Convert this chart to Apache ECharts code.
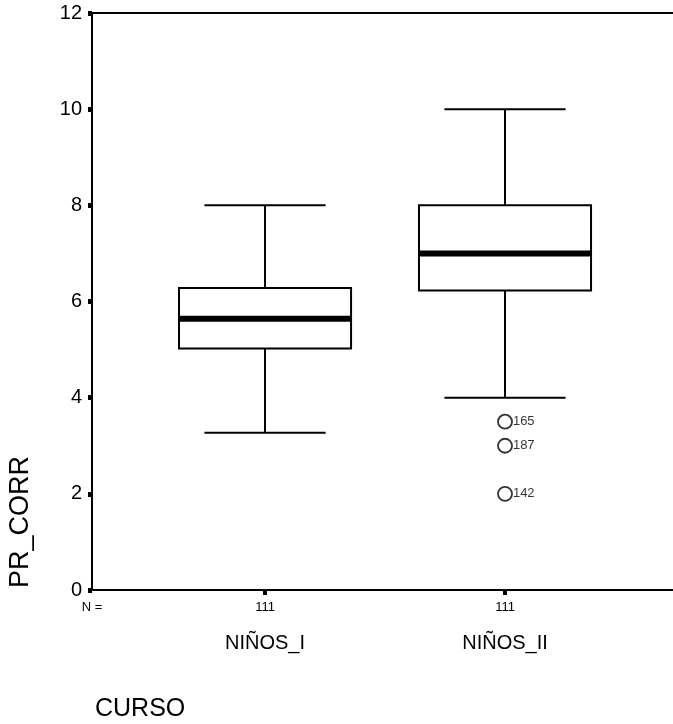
<!DOCTYPE html>
<html><head><meta charset="utf-8">
<script src="https://cdn.jsdelivr.net/npm/echarts@6/dist/echarts.min.js"></script>
<style>html,body{margin:0;padding:0;background:#fff}#c{width:673px;height:724px}</style>
</head><body><div id="c"></div>
<script>
// ---- data ----
const categories = ['NIÑOS_I', 'NIÑOS_II'];
const counts = [111, 111];
const lowerWhisker = [3.27, 4.0];
const q1 = [5.02, 6.23];
const median = [5.64, 7.0];
const q3 = [6.28, 8.0];
const upperWhisker = [8.0, 10.0];
const outlierGroup = [1, 1, 1];
const outlierValue = [3.5, 3.0, 2.0];
const outlierCase = ['165', '187', '142'];
const yTicks = [0, 2, 4, 6, 8, 10, 12];

// ---- layout/style ----
const FF = "'Liberation Sans', Arial, sans-serif";
const XMIN = -0.721, XMAX = 1.70;
const BOX_W = 0.717, CAP_W = 0.505;

const boxData = categories.map((c, i) => [i, lowerWhisker[i], q1[i], median[i], q3[i], upperWhisker[i]]);
const outData = outlierGroup.map((g, i) => [g, outlierValue[i], outlierCase[i]]);

function renderBox(params, api) {
  const x = api.value(0);
  const pLo = api.coord([x, api.value(1)]);
  const pQ1 = api.coord([x, api.value(2)]);
  const pMed = api.coord([x, api.value(3)]);
  const pQ3 = api.coord([x, api.value(4)]);
  const pHi = api.coord([x, api.value(5)]);
  const bw = api.size([BOX_W, 0])[0];
  const cw = api.size([CAP_W, 0])[0];
  const cx = pMed[0];
  const ls = { stroke: '#000', lineWidth: 2, fill: null };
  return {
    type: 'group',
    children: [
      { type: 'line', shape: { x1: cx, y1: pQ3[1], x2: cx, y2: pHi[1] }, style: ls },
      { type: 'line', shape: { x1: cx, y1: pQ1[1], x2: cx, y2: pLo[1] }, style: ls },
      { type: 'line', shape: { x1: cx - cw / 2, y1: pHi[1], x2: cx + cw / 2, y2: pHi[1] }, style: ls },
      { type: 'line', shape: { x1: cx - cw / 2, y1: pLo[1], x2: cx + cw / 2, y2: pLo[1] }, style: ls },
      { type: 'rect', shape: { x: cx - bw / 2, y: pQ3[1], width: bw, height: pQ1[1] - pQ3[1] },
        style: { stroke: '#000', lineWidth: 2, fill: '#fff' } },
      { type: 'line', shape: { x1: cx - bw / 2, y1: pMed[1], x2: cx + bw / 2, y2: pMed[1] },
        style: { stroke: '#000', lineWidth: 6 } }
    ]
  };
}

const chart = echarts.init(document.getElementById('c'), null, { renderer: 'canvas' });
chart.setOption({
  animation: false,
  backgroundColor: '#fff',
  grid: { left: 92, right: 0, top: 13, bottom: 134 },
  xAxis: [
    {
      type: 'value', min: XMIN, max: XMAX, position: 'bottom',
      splitLine: { show: false },
      axisLine: { show: true, onZero: false, lineStyle: { color: '#000', width: 2 } },
      axisTick: { show: true, customValues: [0, 1], length: 5, lineStyle: { color: '#000', width: 4 } },
      axisLabel: {
        customValues: [XMIN, 0, 1], margin: 11, color: '#000', fontFamily: FF, fontSize: 13,
        formatter: v => (Math.abs(v - XMIN) < 1e-6 ? 'N =' : String(counts[Math.round(v)]))
      }
    },
    {
      type: 'value', min: XMIN, max: XMAX, position: 'bottom', offset: 33,
      splitLine: { show: false },
      axisLine: { show: false }, axisTick: { show: false },
      axisLabel: {
        customValues: [0, 1], margin: 10, color: '#000', fontFamily: FF, fontSize: 20,
        letterSpacing: -0.6,
        formatter: v => categories[Math.round(v)]
      }
    },
    {
      type: 'value', min: XMIN, max: XMAX, position: 'top',
      splitLine: { show: false },
      axisLine: { show: true, onZero: false, lineStyle: { color: '#000', width: 2 } },
      axisTick: { show: false }, axisLabel: { show: false }
    }
  ],
  yAxis: {
    type: 'value', min: yTicks[0], max: yTicks[yTicks.length - 1], interval: yTicks[1] - yTicks[0],
    splitLine: { show: false },
    axisLine: { show: true, onZero: false, lineStyle: { color: '#000', width: 2 } },
    axisTick: { show: true, length: 4, lineStyle: { color: '#000', width: 5 } },
    axisLabel: { color: '#000', fontFamily: FF, fontSize: 20, margin: 10 }
  },
  graphic: [
    { type: 'text', x: 21, y: 522, rotation: Math.PI / 2,
      style: { text: 'PR_CORR', align: 'center', verticalAlign: 'middle', fontFamily: FF, fontSize: 27, fill: '#000' } },
    { type: 'text', x: 95, y: 697,
      style: { text: 'CURSO', align: 'left', verticalAlign: 'top', fontFamily: FF, fontSize: 25, fill: '#000' } }
  ],
  series: [
    {
      type: 'custom', xAxisIndex: 0, yAxisIndex: 0,
      renderItem: renderBox, data: boxData,
      encode: { x: 0, y: [1, 2, 3, 4, 5] }
    },
    {
      type: 'scatter', xAxisIndex: 0, yAxisIndex: 0,
      data: outData, symbol: 'circle', symbolSize: 14,
      itemStyle: { color: '#fff', borderColor: '#000', borderWidth: 1.8 },
      label: { show: true, position: 'right', distance: 0, formatter: p => p.value[2],
        fontFamily: FF, fontSize: 13, letterSpacing: -0.6, color: '#000' }
    }
  ]
});
</script>
</body></html>
